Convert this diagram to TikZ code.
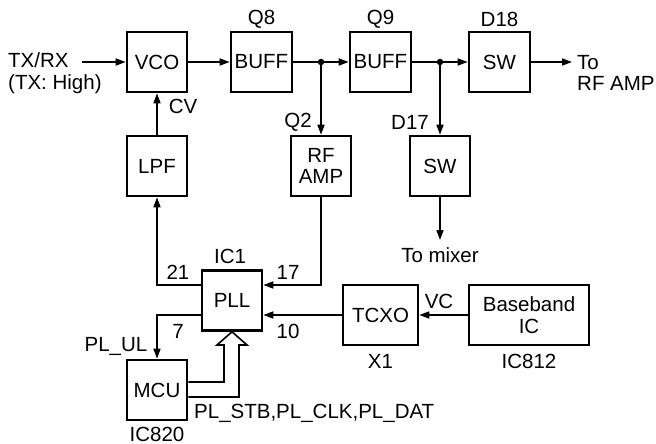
\documentclass[tikz,border=0pt]{standalone}
\usepackage{fontspec}
\setmainfont{Liberation Sans}
\usetikzlibrary{arrows.meta,positioning,calc}

\begin{document}
\begin{tikzpicture}[x=1pt,y=-1pt,
    >={Triangle[length=10pt,width=7pt]},
    every node/.style={font=\fontsize{20.5}{21.5}\selectfont, inner sep=0pt},
    blk/.style={draw, line width=2.6pt, minimum width=60pt, minimum height=60pt, align=center},
    wire/.style={line width=1.6pt},
    bus/.style={line width=1.6pt, line join=miter},
    dot/.style={circle, fill, minimum size=6.5pt}]
    \useasboundingbox (0,0) rectangle (656,444);

    % Blocs
    \node[blk] (vco) at (157,62) {VCO};
    \node[blk, minimum width=61pt] (buff1) at (261.5,62) {BUFF};
    \node[blk, minimum width=61pt] (buff2) at (380.5,62) {BUFF};
    \node[blk, minimum width=61pt] (sw1) at (499.5,62) {SW};
    \node[blk] (lpf) at (157,166) {LPF};
    \node[blk] (rfamp) at (321,166) {RF\\AMP};
    \node[blk] (sw2) at (440,166) {SW};
    \node[blk] (pll) at (232,300.5) {PLL};
    \node[blk, minimum width=75pt] (tcxo) at (380.5,315) {TCXO};
    \node[blk, minimum width=120pt] (bb) at (529,315) {Baseband\\IC};
    \node[blk] (mcu) at (157,390) {MCU};

    % Noeuds
    \node[dot] (j1) at (321,62) {};
    \node[dot] (j2) at (440,62) {};

    % Chaine RF
    \node[align=left, anchor=west] (txrx) at (8,73) {TX/RX\\(TX: High)};
    \coordinate (in) at (82,62);
    \draw[wire,->] (in) -- (vco);
    \draw[wire,->] (vco) -- (buff1);
    \draw[wire] (buff1) -- (j1);
    \draw[wire,->] (j1) -- (buff2);
    \draw[wire,->] (j1) -- (rfamp);
    \draw[wire] (buff2) -- (j2);
    \draw[wire,->] (j2) -- (sw1);
    \draw[wire,->] (j2) -- (sw2);
    \coordinate (out) at (572,62);
    \draw[wire,->] (sw1) -- (out);
    \node[align=left, anchor=west] (torf) at (577,73) {To\\RF AMP};
    \coordinate (mix) at (440,240);
    \draw[wire,->] (sw2) -- (mix);
    \node (tomix) at (440,255) {To mixer};

    % Boucle PLL
    \draw[wire,->] (lpf) -- (vco);
    \draw[wire,->] ([yshift=15.5pt]pll.west) -| (lpf);
    \draw[wire,->] (rfamp) |- ([yshift=15.5pt]pll.east);
    \draw[wire,->] (tcxo) -- (tcxo -| pll.east);
    \draw[wire,->] (bb) -- (tcxo);
    \draw[wire,->] (tcxo -| pll.west) -| (mcu);
    \draw[bus] ([yshift=8pt]mcu.east) -| (224,345) -- (217,345) -- (pll.south)
        -- (247,345) -- (239,345) |- ([yshift=-7pt]mcu.east);

    % Etiquettes
    \node (q8) at (261.5,19) {Q8};
    \node (q9) at (380.5,19) {Q9};
    \node (d18) at (499.5,19) {D18};
    \node (cv) at (183,106) {CV};
    \node (q2) at (298,122) {Q2};
    \node (d17) at (410,122) {D17};
    \node (ic1) at (230,256) {IC1};
    \node (p21) at (178,272) {21};
    \node (p17) at (288,272) {17};
    \node (p7) at (178,331) {7};
    \node (p10) at (288,331) {10};
    \node (plul) at (116,346) {PL\_UL};
    \node (vc) at (439,301) {VC};
    \node (x1) at (380.5,361) {X1};
    \node (ic812) at (529,361) {IC812};
    \node (ic820) at (157,434) {IC820};
    \node[anchor=west] (plbus) at (194,413) {PL\_STB,PL\_CLK,PL\_DAT};
\end{tikzpicture}
\end{document}
